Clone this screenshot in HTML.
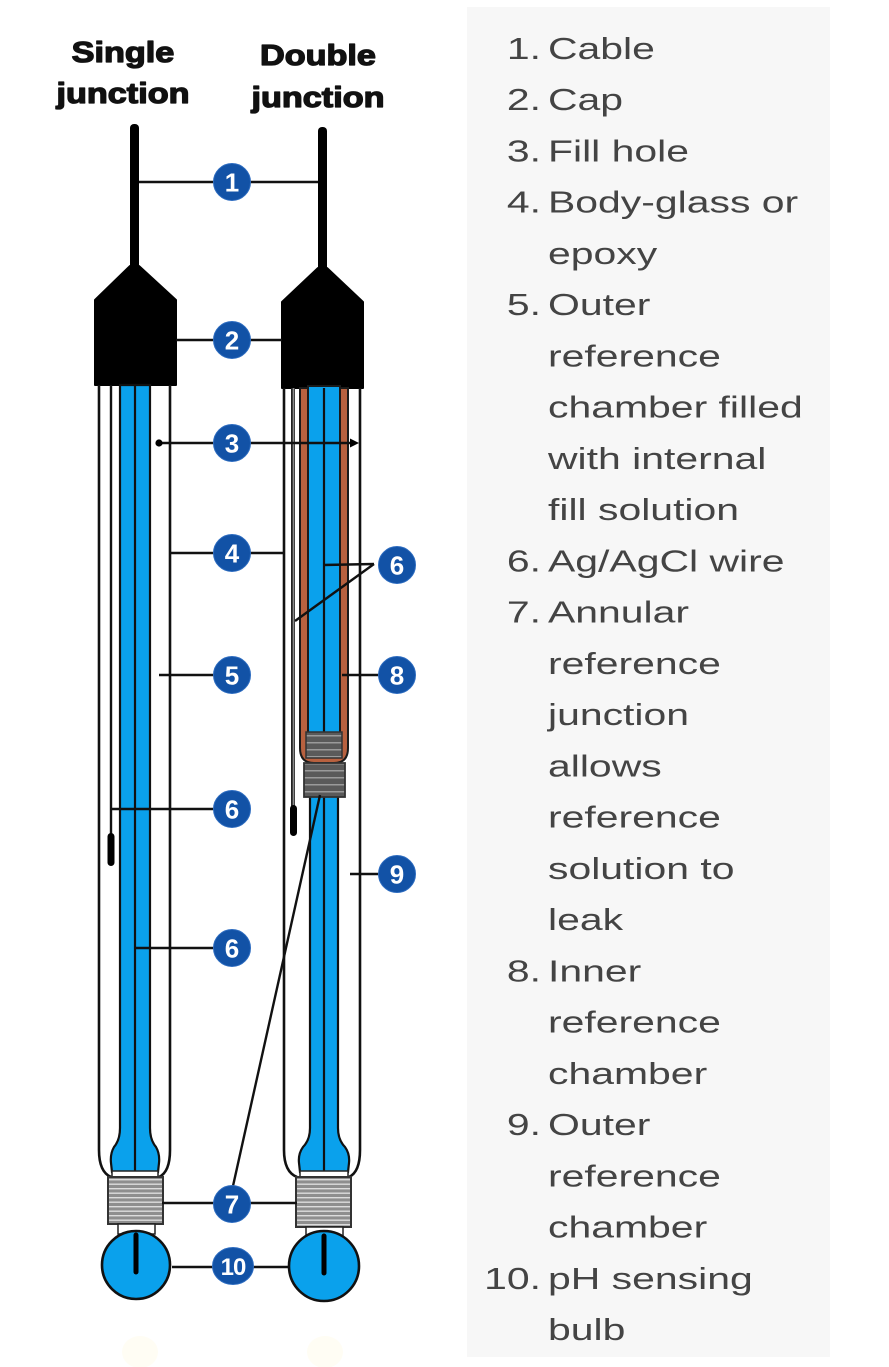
<!DOCTYPE html>
<html>
<head>
<meta charset="utf-8">
<style>
html,body{margin:0;padding:0;background:#fff;}
svg{display:block;}
</style>
</head>
<body>
<svg width="889" height="1367" viewBox="0 0 889 1367" xmlns="http://www.w3.org/2000/svg">
<defs>
<pattern id="rib" width="10" height="4.5" patternUnits="userSpaceOnUse">
<rect width="10" height="4.5" fill="#8e8e8e"/>
<rect y="0" width="10" height="1.4" fill="#dcdcdc"/>
</pattern>
<pattern id="ribd" width="10" height="7" patternUnits="userSpaceOnUse">
<rect width="10" height="7" fill="#5a5a5a"/>
<rect y="0" width="10" height="1.5" fill="#9a9a9a"/>
</pattern>
</defs>

<!-- right panel -->
<rect x="467" y="7" width="363" height="1350" fill="#f7f7f7"/>

<!-- headings -->
<g font-family="Liberation Sans, Arial, sans-serif" font-weight="bold" font-size="29" fill="#111" stroke="#111" stroke-width="1.3" stroke-linejoin="round" text-anchor="middle">
<g transform="translate(123,0) scale(1.18,1)"><text x="0" y="62">Single</text><text x="0" y="103">junction</text></g>
<g transform="translate(318,0) scale(1.18,1)"><text x="0" y="65">Double</text><text x="0" y="107">junction</text></g>
</g>

<!-- ================= SINGLE ELECTRODE ================= -->
<rect x="130" y="124" width="9" height="150" rx="4" fill="#000"/>
<path d="M130,266 L139,266 L176,300 L176,385 L95,385 L95,300 Z" fill="#000" stroke="#000" stroke-width="2" stroke-linejoin="round"/>
<path d="M99,385 V1150 Q99,1172 111,1177" fill="none" stroke="#111" stroke-width="2.6"/>
<path d="M170,385 V1150 Q170,1172 159,1177" fill="none" stroke="#111" stroke-width="2.6"/>
<line x1="111" y1="385" x2="111" y2="836" stroke="#111" stroke-width="2.4"/>
<rect x="107.5" y="833" width="7" height="33" rx="3.5" fill="#000"/>
<path d="M120,385 V1128 Q120,1140 114,1147 Q110,1154 111,1163 L112,1172 H158 L159,1163 Q160,1154 156,1147 Q150,1140 150,1128 V385 Z" fill="#0aa1ec" stroke="#111" stroke-width="2.2"/>
<line x1="135" y1="385" x2="135" y2="1172" stroke="#111" stroke-width="2.2"/>
<rect x="112" y="1171" width="46" height="6" fill="#fff" stroke="#222" stroke-width="1.5"/>
<rect x="108" y="1177" width="55" height="47" fill="url(#rib)" stroke="#333" stroke-width="2"/>
<rect x="118" y="1224" width="37" height="10" fill="#fff" stroke="#222" stroke-width="1.5"/>
<circle cx="136" cy="1265" r="34" fill="#0aa1ec" stroke="#111" stroke-width="2.6"/>
<line x1="136" y1="1235" x2="136" y2="1272" stroke="#000" stroke-width="5" stroke-linecap="round"/>

<!-- ================= DOUBLE ELECTRODE ================= -->
<rect x="318" y="127" width="9" height="148" rx="4" fill="#000"/>
<path d="M318,268 L327,268 L363,302 L363,388 L282,388 L282,302 Z" fill="#000" stroke="#000" stroke-width="2" stroke-linejoin="round"/>
<path d="M284,388 V1150 Q284,1172 297,1177" fill="none" stroke="#111" stroke-width="2.6"/>
<path d="M360,388 V1150 Q360,1172 349,1177" fill="none" stroke="#111" stroke-width="2.6"/>
<line x1="293" y1="388" x2="293" y2="808" stroke="#222" stroke-width="4"/>
<line x1="293.5" y1="388" x2="293.5" y2="808" stroke="#8a8a8a" stroke-width="1.6"/>
<rect x="290" y="805" width="7" height="31" rx="3.5" fill="#000"/>
<path d="M310,790 V1128 Q310,1140 303,1147 Q298,1154 299,1163 L300,1172 H348 L349,1163 Q350,1154 345,1147 Q338,1140 338,1128 V790 Z" fill="#0aa1ec" stroke="#111" stroke-width="2.2"/>
<line x1="324" y1="790" x2="324" y2="1172" stroke="#111" stroke-width="2.2"/>
<path d="M300,388 V748 Q300,763 314,763 H334 Q348,763 348,748 V388 Z" fill="#b8613f" stroke="#1a1a1a" stroke-width="2"/>
<rect x="308" y="386" width="32" height="348" fill="#0aa1ec" stroke="#1a1a1a" stroke-width="2"/>
<line x1="324" y1="388" x2="324" y2="733" stroke="#111" stroke-width="2.2"/>
<rect x="306" y="732" width="36" height="26" fill="url(#ribd)" stroke="#333" stroke-width="1.5"/>
<rect x="304" y="763" width="41" height="34" fill="url(#ribd)" stroke="#333" stroke-width="1.8"/>
<rect x="300" y="1171" width="48" height="6" fill="#fff" stroke="#222" stroke-width="1.5"/>
<rect x="296" y="1177" width="55" height="50" fill="url(#rib)" stroke="#333" stroke-width="2"/>
<rect x="306" y="1227" width="37" height="9" fill="#fff" stroke="#222" stroke-width="1.5"/>
<circle cx="324" cy="1266" r="35" fill="#0aa1ec" stroke="#111" stroke-width="2.6"/>
<line x1="324" y1="1236" x2="324" y2="1273" stroke="#000" stroke-width="5" stroke-linecap="round"/>

<!-- faint ghost marks -->
<ellipse cx="140" cy="1352" rx="18" ry="16" fill="#fffdf4"/>
<ellipse cx="325" cy="1352" rx="18" ry="16" fill="#fffdf4"/>

<!-- ================= LEADER LINES ================= -->
<g stroke="#111" stroke-width="2.4" fill="none">
<line x1="139" y1="182" x2="318" y2="182"/>
<line x1="176" y1="340" x2="282" y2="340"/>
<line x1="159" y1="443" x2="352" y2="443"/>
<line x1="170" y1="553" x2="284" y2="553"/>
<line x1="159" y1="675" x2="232" y2="675"/>
<line x1="323" y1="565" x2="374" y2="564"/>
<line x1="295" y1="621" x2="374" y2="564"/>
<line x1="342" y1="675" x2="397" y2="675"/>
<line x1="112" y1="809" x2="232" y2="809"/>
<line x1="350" y1="874" x2="397" y2="874"/>
<line x1="135" y1="948" x2="232" y2="948"/>
<line x1="162" y1="1203" x2="297" y2="1203"/>
<line x1="233" y1="1186" x2="320" y2="795"/>
<line x1="172" y1="1267" x2="290" y2="1267"/>
</g>
<circle cx="159" cy="443" r="3.6" fill="#000"/>
<polygon points="350,438.5 359,443 350,447.5" fill="#000"/>

<!-- ================= NUMBER BADGES ================= -->
<g fill="#1252a6" stroke="#2d6cc0" stroke-width="1">
<circle cx="232" cy="182" r="18.5"/>
<circle cx="232" cy="340" r="18.5"/>
<circle cx="232" cy="443" r="18.5"/>
<circle cx="232" cy="553" r="18.5"/>
<circle cx="232" cy="675" r="18.5"/>
<circle cx="397" cy="565" r="18.5"/>
<circle cx="397" cy="675" r="18.5"/>
<circle cx="232" cy="809" r="18.5"/>
<circle cx="397" cy="874" r="18.5"/>
<circle cx="232" cy="948" r="18.5"/>
<circle cx="232" cy="1204" r="18.5"/>
<ellipse cx="233" cy="1266" rx="20.5" ry="18.5"/>
</g>
<g font-family="Liberation Sans, Arial, sans-serif" font-weight="bold" font-size="26" fill="#fff" text-anchor="middle">
<text x="232" y="191.5">1</text>
<text x="232" y="349.5">2</text>
<text x="232" y="452.5">3</text>
<text x="232" y="562.5">4</text>
<text x="232" y="684.5">5</text>
<text x="397" y="574.5">6</text>
<text x="397" y="684.5">8</text>
<text x="232" y="818.5">6</text>
<text x="397" y="883.5">9</text>
<text x="232" y="957.5">6</text>
<text x="232" y="1213.5">7</text>
<text x="233" y="1275" font-size="24" letter-spacing="-1">10</text>
</g>

<!-- ================= LIST ================= -->
<g font-family="Liberation Sans, Arial, sans-serif" font-size="31" fill="#444">
<g transform="translate(541,0) scale(1.32,1)" text-anchor="end">
<text x="0" y="59">1.</text>
<text x="0" y="110.25">2.</text>
<text x="0" y="161.5">3.</text>
<text x="0" y="212.75">4.</text>
<text x="0" y="315.25">5.</text>
<text x="0" y="571.5">6.</text>
<text x="0" y="622.75">7.</text>
<text x="0" y="981.5">8.</text>
<text x="0" y="1135.25">9.</text>
<text x="0" y="1289">10.</text>
</g>
<g transform="translate(548,0) scale(1.32,1)">
<text x="0" y="59">Cable</text>
<text x="0" y="110.25">Cap</text>
<text x="0" y="161.5">Fill hole</text>
<text x="0" y="212.75">Body-glass or</text>
<text x="0" y="264">epoxy</text>
<text x="0" y="315.25">Outer</text>
<text x="0" y="366.5">reference</text>
<text x="0" y="417.75">chamber filled</text>
<text x="0" y="469">with internal</text>
<text x="0" y="520.25">fill solution</text>
<text x="0" y="571.5">Ag/AgCl wire</text>
<text x="0" y="622.75">Annular</text>
<text x="0" y="674">reference</text>
<text x="0" y="725.25">junction</text>
<text x="0" y="776.5">allows</text>
<text x="0" y="827.75">reference</text>
<text x="0" y="879">solution to</text>
<text x="0" y="930.25">leak</text>
<text x="0" y="981.5">Inner</text>
<text x="0" y="1032.75">reference</text>
<text x="0" y="1084">chamber</text>
<text x="0" y="1135.25">Outer</text>
<text x="0" y="1186.5">reference</text>
<text x="0" y="1237.75">chamber</text>
<text x="0" y="1289">pH sensing</text>
<text x="0" y="1340.25">bulb</text>
</g>
</g>
</svg>
</body>
</html>
